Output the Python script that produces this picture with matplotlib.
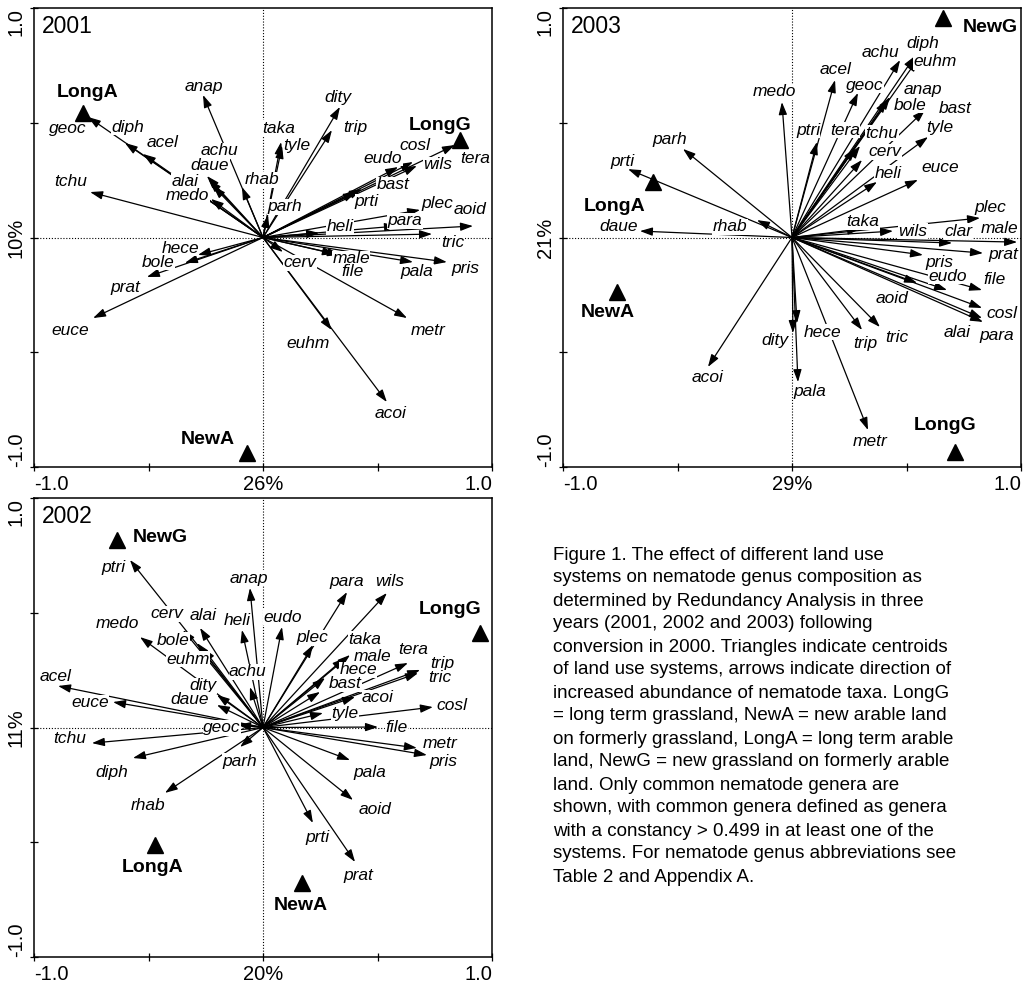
import matplotlib
matplotlib.use("Agg")
import matplotlib.pyplot as plt

plt.rcParams["font.family"] = ["Liberation Sans", "DejaVu Sans"]

# ---------------- RDA scores: 2001 ----------------
taxa_2001 = ["geoc", "diph", "acel", "anap", "achu", "daue", "alai", "medo", "rhab", "tchu",
             "dity", "trip", "taka", "tyle", "parh", "eudo", "cosl", "wils", "tera", "bast",
             "prti", "plec", "heli", "para", "aoid", "tric", "male", "file", "pala", "pris",
             "cerv", "metr", "euhm", "acoi", "hece", "bole", "prat", "euce"]
rda1_2001 = [-0.764, -0.603, -0.524, -0.262, -0.245, -0.236, -0.218, -0.227, -0.092, -0.755,
             0.336, 0.301, 0.079, 0.083, 0.022, 0.590, 0.655, 0.672, 0.838, 0.432,
             0.406, 0.686, 0.245, 0.585, 0.917, 0.738, 0.336, 0.314, 0.655, 0.803,
             0.087, 0.629, 0.300, 0.541, -0.284, -0.341, -0.507, -0.742]
rda2_2001 = [0.525, 0.412, 0.364, 0.621, 0.268, 0.251, 0.224, 0.168, 0.220, 0.198,
             0.569, 0.468, 0.416, 0.399, 0.098, 0.307, 0.329, 0.312, 0.403, 0.211,
             0.198, 0.120, 0.020, 0.050, 0.050, 0.015, -0.076, -0.072, -0.107, -0.107,
             -0.063, -0.351, -0.403, -0.717, -0.076, -0.111, -0.172, -0.351]
systems_2001 = ["LongA", "LongG", "NewA"]
sys1_2001 = [-0.787, 0.860, -0.070]
sys2_2001 = [0.542, 0.425, -0.939]

# ---------------- RDA scores: 2003 ----------------
taxa_2003 = ["parh", "prti", "daue", "rhab", "medo", "acel", "achu", "diph", "euhm", "geoc",
             "anap", "bole", "bast", "tyle", "ptri", "tera", "tchu", "cerv", "heli", "euce",
             "plec", "taka", "wils", "clar", "male", "prat", "pris", "eudo", "file", "aoid",
             "cosl", "alai", "para", "tric", "trip", "hece", "dity", "pala", "metr", "acoi"]
rda1_2003 = [-0.476, -0.716, -0.664, -0.153, -0.044, 0.188, 0.472, 0.537, 0.550, 0.288,
             0.428, 0.415, 0.581, 0.594, 0.109, 0.275, 0.297, 0.306, 0.371, 0.550,
             0.821, 0.297, 0.441, 0.699, 0.983, 0.834, 0.572, 0.677, 0.830, 0.546,
             0.830, 0.830, 0.834, 0.384, 0.306, 0.022, 0.004, 0.026, 0.332, -0.367]
rda2_2003 = [0.386, 0.298, 0.028, 0.076, 0.590, 0.686, 0.773, 0.791, 0.778, 0.630,
             0.612, 0.599, 0.556, 0.438, 0.416, 0.390, 0.399, 0.338, 0.242, 0.251,
             0.085, 0.037, 0.028, -0.024, -0.020, -0.068, -0.076, -0.229, -0.229, -0.198,
             -0.307, -0.351, -0.368, -0.390, -0.403, -0.373, -0.416, -0.630, -0.839, -0.564]
systems_2003 = ["LongA", "NewG", "NewA", "LongG"]
sys1_2003 = [-0.607, 0.659, -0.764, 0.712]
sys2_2003 = [0.242, 0.956, -0.237, -0.935]

# ---------------- RDA scores: 2002 ----------------
taxa_2002 = ["ptri", "anap", "cerv", "alai", "heli", "medo", "bole", "euhm", "achu", "dity",
             "daue", "acel", "euce", "geoc", "eudo", "para", "wils", "plec", "taka", "male",
             "hece", "bast", "tera", "trip", "tric", "acoi", "cosl", "tyle", "file", "tchu",
             "diph", "parh", "rhab", "metr", "pris", "pala", "aoid", "prti", "prat"]
rda1_2002 = [-0.581, -0.057, -0.349, -0.275, -0.092, -0.537, -0.288, -0.262, -0.057, -0.201,
             -0.201, -0.895, -0.655, -0.109, 0.083, 0.367, 0.541, 0.218, 0.380, 0.358,
             0.271, 0.249, 0.633, 0.686, 0.677, 0.402, 0.742, 0.262, 0.502, -0.747,
             -0.568, -0.100, -0.428, 0.672, 0.716, 0.380, 0.393, 0.218, 0.402]
rda2_2002 = [0.730, 0.608, 0.425, 0.434, 0.425, 0.394, 0.368, 0.346, 0.176, 0.142,
             0.098, 0.181, 0.111, 0.011, 0.438, 0.590, 0.586, 0.359, 0.316, 0.303,
             0.216, 0.155, 0.281, 0.251, 0.237, 0.133, 0.089, 0.063, 0.002, -0.068,
             -0.133, -0.085, -0.285, -0.089, -0.120, -0.142, -0.316, -0.416, -0.586]
systems_2002 = ["NewG", "LongG", "LongA", "NewA"]
sys1_2002 = [-0.638, 0.948, -0.472, 0.170]
sys2_2002 = [0.817, 0.412, -0.512, -0.678]

# explained variance shown on the axes (axis 1, axis 2)
axis_pct = {"2001": ("26%", "10%"), "2002": ("20%", "11%"), "2003": ("29%", "21%")}

# ---------------- label placement (data coordinates) ----------------
label_xy = {
    "2001": {
        "geoc": (-0.852, 0.477), "diph": (-0.590, 0.481), "acel": (-0.437, 0.416),
        "anap": (-0.258, 0.660), "achu": (-0.192, 0.377), "daue": (-0.231, 0.312),
        "alai": (-0.341, 0.246), "medo": (-0.328, 0.181), "rhab": (-0.004, 0.251),
        "tchu": (-0.838, 0.246), "dity": (0.328, 0.608), "trip": (0.402, 0.481),
        "taka": (0.070, 0.477), "tyle": (0.148, 0.403), "parh": (0.096, 0.133),
        "eudo": (0.524, 0.346), "cosl": (0.664, 0.403), "wils": (0.764, 0.316),
        "tera": (0.926, 0.346), "bast": (0.568, 0.229), "prti": (0.454, 0.155),
        "plec": (0.760, 0.150), "heli": (0.336, 0.046), "para": (0.620, 0.072),
        "aoid": (0.904, 0.120), "tric": (0.830, -0.020), "male": (0.385, -0.093),
        "file": (0.389, -0.150), "pala": (0.672, -0.150), "pris": (0.882, -0.137),
        "cerv": (0.162, -0.111), "metr": (0.721, -0.407), "euhm": (0.197, -0.464),
        "acoi": (0.555, -0.769), "hece": (-0.362, -0.046), "bole": (-0.459, -0.107),
        "prat": (-0.603, -0.216), "euce": (-0.843, -0.407),
        "LongA": (-0.764, 0.630), "LongG": (0.773, 0.490), "NewA": (-0.240, -0.882),
    },
    "2003": {
        "parh": (-0.533, 0.425), "prti": (-0.742, 0.333), "daue": (-0.755, 0.046),
        "rhab": (-0.271, 0.046), "medo": (-0.079, 0.634), "acel": (0.192, 0.734),
        "achu": (0.384, 0.804), "diph": (0.572, 0.847), "euhm": (0.624, 0.765),
        "geoc": (0.319, 0.664), "anap": (0.572, 0.647), "bole": (0.515, 0.577),
        "bast": (0.712, 0.564), "tyle": (0.646, 0.481), "ptri": (0.070, 0.468),
        "tera": (0.231, 0.468), "tchu": (0.393, 0.455), "cerv": (0.406, 0.373),
        "heli": (0.419, 0.281), "euce": (0.646, 0.307), "plec": (0.865, 0.129),
        "taka": (0.310, 0.068), "wils": (0.528, 0.028), "clar": (0.725, 0.028),
        "male": (0.908, 0.041), "prat": (0.921, -0.076), "pris": (0.646, -0.111),
        "eudo": (0.681, -0.168), "file": (0.886, -0.181), "aoid": (0.437, -0.264),
        "cosl": (0.917, -0.329), "alai": (0.721, -0.416), "para": (0.895, -0.425),
        "tric": (0.459, -0.434), "trip": (0.319, -0.460), "hece": (0.135, -0.412),
        "dity": (-0.074, -0.447), "pala": (0.079, -0.673), "metr": (0.341, -0.891),
        "acoi": (-0.367, -0.612),
        "LongA": (-0.773, 0.133), "NewG": (0.865, 0.913), "NewA": (-0.803, -0.325),
        "LongG": (0.668, -0.821),
    },
    "2002": {
        "ptri": (-0.651, 0.699), "anap": (-0.061, 0.651), "cerv": (-0.419, 0.495),
        "alai": (-0.262, 0.490), "heli": (-0.114, 0.468), "medo": (-0.638, 0.451),
        "bole": (-0.393, 0.381), "euhm": (-0.328, 0.298), "achu": (-0.066, 0.242),
        "dity": (-0.262, 0.181), "daue": (-0.319, 0.120), "acel": (-0.908, 0.224),
        "euce": (-0.755, 0.107), "geoc": (-0.179, -0.002), "eudo": (0.087, 0.481),
        "para": (0.367, 0.634), "wils": (0.555, 0.634), "plec": (0.214, 0.390),
        "taka": (0.445, 0.385), "male": (0.480, 0.310), "hece": (0.415, 0.252),
        "bast": (0.358, 0.190), "tera": (0.655, 0.338), "trip": (0.782, 0.281),
        "tric": (0.773, 0.216), "acoi": (0.502, 0.129), "cosl": (0.825, 0.098),
        "tyle": (0.358, 0.059), "file": (0.585, -0.002), "tchu": (-0.843, -0.046),
        "diph": (-0.659, -0.194), "parh": (-0.100, -0.146), "rhab": (-0.502, -0.338),
        "metr": (0.773, -0.068), "pris": (0.786, -0.150), "pala": (0.467, -0.198),
        "aoid": (0.489, -0.359), "prti": (0.236, -0.481), "prat": (0.415, -0.643),
        "NewG": (-0.450, 0.826), "LongG": (0.817, 0.512), "LongA": (-0.480, -0.612),
        "NewA": (0.166, -0.775),
    },
}

caption_lines = [
    "Figure 1. The effect of different land use",
    "systems on nematode genus composition as",
    "determined by Redundancy Analysis in three",
    "years (2001, 2002 and 2003) following",
    "conversion in 2000. Triangles indicate centroids",
    "of land use systems, arrows indicate direction of",
    "increased abundance of nematode taxa. LongG",
    "= long term grassland, NewA = new arable land",
    "on formerly grassland, LongA = long term arable",
    "land, NewG = new grassland on formerly arable",
    "land. Only common nematode genera are",
    "shown, with common genera defined as genera",
    "with a constancy > 0.499 in at least one of the",
    "systems. For nematode genus abbreviations see",
    "Table 2 and Appendix A.",
]

W, H = 1024, 985
fig = plt.figure(figsize=(W / 100, H / 100), dpi=100)


def px_axes(left, top, right, bottom):
    return fig.add_axes([left / W, 1 - bottom / H, (right - left) / W, (bottom - top) / H])


def draw_panel(ax, year, taxa, xs, ys, systems, sx, sy):
    pos = label_xy[year]
    ax.set_xlim(-1, 1)
    ax.set_ylim(-1, 1)
    dot = (0, (1, 1.6))
    ax.axhline(0, color="black", lw=0.8, ls=dot, zorder=1)
    ax.axvline(0, color="black", lw=0.8, ls=dot, zorder=1)

    for name, x, y in zip(taxa, xs, ys):
        ax.annotate("", xy=(x, y), xytext=(0, 0),
                    arrowprops=dict(arrowstyle="-|>,head_length=0.75,head_width=0.25",
                                    lw=0.9, color="black", shrinkA=0, shrinkB=0,
                                    mutation_scale=10),
                    zorder=2)
        lx, ly = pos[name]
        ax.text(lx, ly, name, fontsize=12.5, style="italic", ha="center", va="center",
                bbox=dict(facecolor="white", edgecolor="none", pad=0.3), zorder=4)

    ax.plot(sx, sy, linestyle="none", marker="^", color="black", markersize=11, zorder=5)
    for name in systems:
        lx, ly = pos[name]
        ax.text(lx, ly, name, fontsize=14, fontweight="bold", ha="center", va="center",
                zorder=6)

    ax.text(0.017, 0.985, year, transform=ax.transAxes, fontsize=16.5, ha="left", va="top",
            zorder=6)

    xl, yl = axis_pct[year]
    ax.set_xticks([-1, -0.5, 0, 0.5, 1])
    ax.set_xticklabels(["-1.0", "", xl, "", "1.0"])
    ax.set_yticks([-1, -0.5, 0, 0.5, 1])
    ax.set_yticklabels(["-1.0", "", yl, "", "1.0"], rotation=90)
    ax.tick_params(direction="inout", length=6, width=0.9, labelsize=14.5, pad=3)
    xt = ax.get_xticklabels()
    xt[0].set_horizontalalignment("left")
    xt[-1].set_horizontalalignment("right")
    yt = ax.get_yticklabels()
    for t in yt:
        t.set_verticalalignment("center")
    yt[0].set_verticalalignment("bottom")
    yt[-1].set_verticalalignment("top")
    for s in ax.spines.values():
        s.set_linewidth(1.1)


ax01 = px_axes(34, 8, 492, 467)
draw_panel(ax01, "2001", taxa_2001, rda1_2001, rda2_2001, systems_2001, sys1_2001, sys2_2001)

ax03 = px_axes(563, 8, 1021, 467)
draw_panel(ax03, "2003", taxa_2003, rda1_2003, rda2_2003, systems_2003, sys1_2003, sys2_2003)

ax02 = px_axes(34, 498, 492, 957)
draw_panel(ax02, "2002", taxa_2002, rda1_2002, rda2_2002, systems_2002, sys1_2002, sys2_2002)

# figure caption
for i, line in enumerate(caption_lines):
    y = 555 + 23 * i
    fig.text(553 / W, 1 - y / H, line, fontsize=13.5, ha="left", va="center")

fig.savefig("out.png", dpi=100)
